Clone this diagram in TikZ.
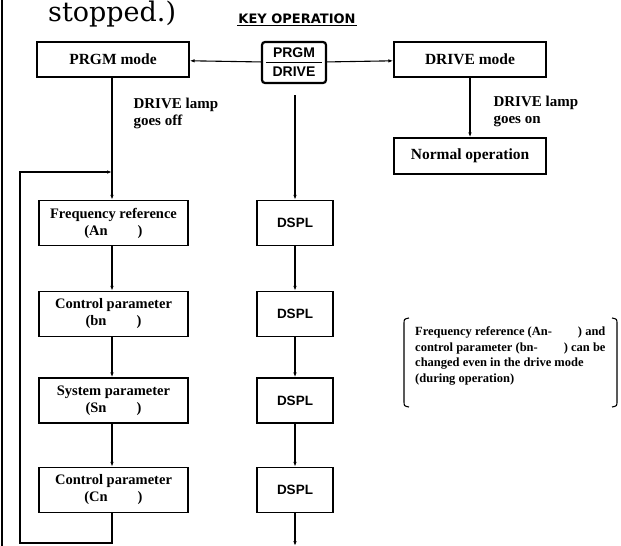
\documentclass[tikz,border=0pt]{standalone}
\usepackage{fontspec}
\setmainfont{Liberation Serif}
\setsansfont{Liberation Sans}
\newfontfamily\bigserif{DejaVu Serif}
\newfontfamily\widesans{DejaVu Sans}
\usetikzlibrary{arrows.meta}

\tikzset{
  arr/.style={-{Latex[length=5pt,width=3.5pt]},line width=1.1pt},
  modebox/.style={draw,line width=1.3pt,minimum width=152pt,minimum height=35pt,
    font=\bfseries\fontsize{15.5}{17}\selectfont},
  parbox/.style={draw,line width=1.3pt,minimum width=149pt,minimum height=45pt,
    align=center,font=\bfseries\fontsize{14.5}{17}\selectfont},
  dsplbox/.style={draw,line width=1.3pt,minimum width=76pt,minimum height=45pt,
    font=\sffamily\bfseries\fontsize{13.5}{15}\selectfont},
  lamp/.style={anchor=west,align=left,font=\bfseries\fontsize{15}{17}\selectfont},
}

\begin{document}
\begin{tikzpicture}[x=1pt,y=-1pt]
  \useasboundingbox (0,0) rectangle (621,546);
  \draw[line width=1.3pt] (2,0) -- (2,546);

  \node[anchor=base west,inner sep=0pt,font=\bigserif\fontsize{27}{28}\selectfont] (stop) at (48,21) {stopped.)};
  \node[font=\widesans\bfseries\fontsize{13}{14}\selectfont,inner sep=1pt] (keyop) at (297,19) {KEY OPERATION};
  \draw[line width=1.2pt] (keyop.south west) -- (keyop.south east);

  % key and modes
  \node[draw,line width=2.2pt,rounded corners=3pt,minimum width=64pt,minimum height=41pt,
        inner sep=0pt,align=center,
        font=\sffamily\bfseries\fontsize{14}{19}\selectfont] (key) at (294,62.5) {PRGM\\DRIVE};
  \draw[line width=1.2pt] ([xshift=5pt]key.west) -- ([xshift=-5pt]key.east);
  \node[modebox] (prgm) at (113,59.5) {PRGM mode};
  \node[modebox] (drive) at (470,59.5) {DRIVE mode};
  \node[modebox,minimum height=36pt] (normal) at (470,156) {Normal operation};
  \draw[arr] (key) -- (prgm);
  \draw[arr] (key) -- (drive);
  \draw[arr] (drive.south -| normal.north) -- (normal.north);
  \node[lamp] (lampon) at (490,111) {DRIVE lamp\\goes on};

  % parameter column
  \node[parbox] (fref) at (113.5,223) {Frequency reference\\(An\hspace{30pt})};
  \node[parbox] (cpb) at (113.5,314) {Control parameter\\(bn\hspace{30pt})};
  \node[parbox] (sys) at (113.5,400.5) {System parameter\\(Sn\hspace{30pt})};
  \node[parbox] (cpc) at (113.5,490) {Control parameter\\(Cn\hspace{30pt})};
  \coordinate (join) at (112,172);
  \draw[line width=1.1pt] (prgm.south -| join) -- (join);
  \draw[arr] (join) -- (fref.north -| join);
  \draw[arr] (fref.south -| join) -- (cpb.north -| join);
  \draw[arr] (cpb.south -| join) -- (sys.north -| join);
  \draw[arr] (sys.south -| join) -- (cpc.north -| join);
  \node[lamp] (lampoff) at (130,113) {DRIVE lamp\\goes off};

  % loop back
  \coordinate (lb) at (20,543);
  \draw[arr] (cpc.south -| join) |- (lb) |- (join);

  % display column
  \coordinate (ktop) at (295,95);
  \foreach \n/\y in {1/223,2/314,3/400.5,4/490} {
    \node[dsplbox] (d\n) at (295,\y) {DSPL};
  }
  \draw[arr] (ktop) -- (d1);
  \foreach \a/\b in {1/2,2/3,3/4} {
    \draw[arr] (d\a) -- (d\b);
  }
  \coordinate (dend) at (295,546);
  \draw[arr] (d4) -- (dend);

  % note
  \node[anchor=west,align=left,inner sep=0pt,
        font=\bfseries\fontsize{12.5}{15.5}\selectfont] (note) at (415,356)
    {Frequency reference (An-\hspace{26pt}) and\\control parameter (bn-\hspace{26pt}) can be\\changed even in the drive mode\\(during operation)};
  \draw[line width=1.1pt] (409,318) .. controls (404,319) .. (404,324) -- (404,401) .. controls (404,406) .. (409,407);
  \draw[line width=1.1pt] (612,318) .. controls (617,319) .. (617,324) -- (617,401) .. controls (617,406) .. (612,407);
\end{tikzpicture}
\end{document}
